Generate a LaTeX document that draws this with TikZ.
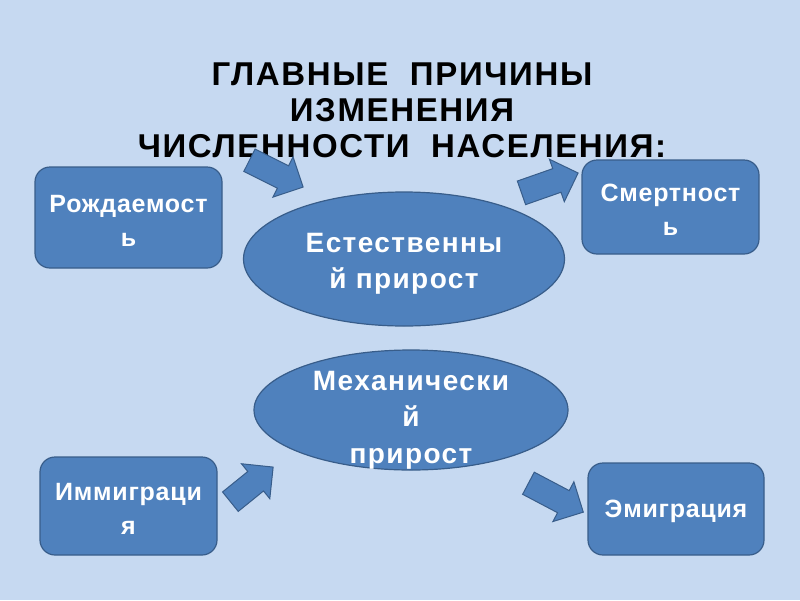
\documentclass[tikz,border=0pt]{standalone}
\usepackage{fontspec}
\setmainfont{Liberation Sans}
\usetikzlibrary{shapes.geometric, shapes.arrows}

\definecolor{slidebg}{HTML}{C6D9F1}
\definecolor{boxfill}{HTML}{4F81BD}
\definecolor{boxline}{HTML}{385D8A}

\begin{document}
\begin{tikzpicture}[x=1pt, y=-1pt,
  box/.style={draw=boxline, line width=1.2pt, fill=boxfill, rounded corners=15pt},
  boxtext/.style={text=white, align=center, inner sep=0pt,
    font=\fontsize{25}{34}\selectfont\bfseries\addfontfeatures{LetterSpace=3}},
  oval/.style={ellipse, draw=boxline, line width=1.2pt, fill=boxfill},
  ovaltext/.style={text=white, align=center, inner sep=0pt,
    font=\fontsize{28}{36.5}\selectfont\bfseries\addfontfeatures{LetterSpace=5}},
  barrow/.style={single arrow, draw=boxline, line width=1pt, fill=boxfill,
    inner xsep=0pt, inner ysep=12pt, single arrow head extend=10pt,
    single arrow tip angle=90, anchor=tail}]

% Background
\fill[slidebg] (0,0) rectangle (800,600);
\useasboundingbox (0,0) rectangle (800,600);

% Title
\node[align=center, font=\fontsize{33}{36}\selectfont\bfseries\addfontfeatures{LetterSpace=5}]
  (title) at (402,110)
  {ГЛАВНЫЕ\ \ ПРИЧИНЫ\\ИЗМЕНЕНИЯ\\ЧИСЛЕННОСТИ\ \ НАСЕЛЕНИЯ:};

% Block arrows
\node[barrow, minimum height=60pt, rotate=-26.6] (birthArrow) at (249,160) {};
\node[barrow, minimum height=60pt, rotate=19.3] (deathArrow) at (521,193) {};
\node[barrow, minimum height=55pt, rotate=39] (immArrow) at (230,502) {};
\node[barrow, minimum height=62pt, rotate=-27.8] (emiArrow) at (528,483) {};

% Natural and mechanical growth
\node[oval, minimum width=321pt, minimum height=134pt] (natural) at (404,259) {};
\node[ovaltext] (naturalText) at ([yshift=-5pt]natural.center) {Естественны\\й прирост};
\node[oval, minimum width=314pt, minimum height=120pt] (mechanical) at (411,410) {};
\node[ovaltext] (mechanicalText) at ([yshift=-10pt]mechanical.center)
  {Механически\\й\\прирост};

% Boxes
\node[box, minimum width=187pt, minimum height=101pt] (birth) at (128.5,217.5) {};
\node[boxtext] (birthText) at ([yshift=-3pt]birth.center) {Рождаемост\\ь};
\node[box, minimum width=177pt, minimum height=94pt] (death) at (670.5,207) {};
\node[boxtext] (deathText) at ([yshift=-3pt]death.center) {Смертност\\ь};
\node[box, minimum width=177pt, minimum height=98pt] (immigration) at (128.5,506) {};
\node[boxtext] (immigrationText) at ([yshift=-3pt]immigration.center) {Иммиграци\\я};
\node[box, minimum width=176pt, minimum height=92pt] (emigration) at (676,509) {};
\node[boxtext] (emigrationText) at ([yshift=-2pt]emigration.center) {Эмиграция};

\end{tikzpicture}
\end{document}
